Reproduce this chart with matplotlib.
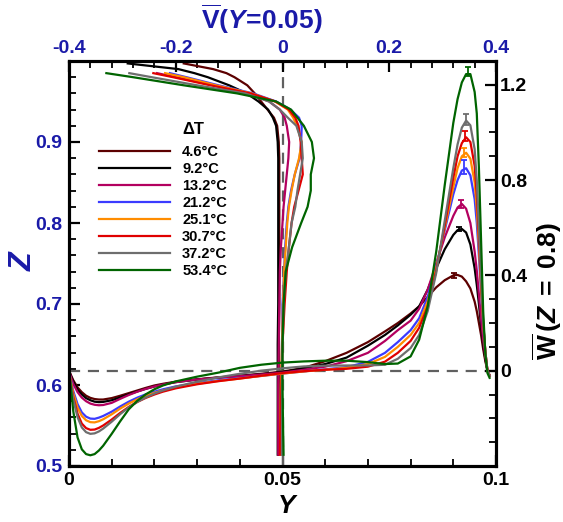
import numpy as np
import matplotlib
matplotlib.use("Agg")
import matplotlib.pyplot as plt
from matplotlib.ticker import MultipleLocator, FixedLocator, FixedFormatter

plt.rcParams['font.family'] = 'Liberation Sans'
plt.rcParams['font.weight'] = 'bold'
plt.rcParams['mathtext.fontset'] = 'custom'
plt.rcParams['mathtext.rm'] = 'Liberation Sans:bold'
plt.rcParams['mathtext.it'] = 'Liberation Sans:italic:bold'
plt.rcParams['mathtext.bf'] = 'Liberation Sans:bold'

BLUE = '#1a1aa8'
nan = np.nan

labels = ['4.6°C', '9.2°C', '13.2°C', '21.2°C', '25.1°C', '30.7°C', '37.2°C', '53.4°C']
colors = ['#5c0000', '#000000', '#b3005f', '#3b3bff', '#ff8c00', '#e00000', '#6e6e6e', '#006400']

# W(Z=0.8) profiles along Y (bottom / right axes)
wy = [0, .0005, .001, .002, .003, .004, .005, .006, .007, .008,
      .010, .012, .014, .016, .018, .020, .022, .025, .030, .035,
      .040, .045, .050, .055, .060, .065, .070, .074, .077, .080,
      .082, .084, .086, .088, .090, .091, .092, .093, .094, .095,
      .0955, .096, .0965, .097, .0975, .098, .0985]

w_46 = [0, -0.02, -0.04, -0.07, -0.09, -0.105, -0.114, -0.119, -0.121, -0.121,
        -0.115, -0.105, -0.094, -0.083, -0.072, -0.062, -0.055, -0.046, -0.036, -0.028,
        -0.021, -0.013, -0.004, 0.012, 0.04, 0.075, 0.12, 0.165, 0.2, 0.24,
        0.27, 0.31, 0.35, 0.38, 0.40, 0.402, 0.395, 0.375, 0.345, 0.29,
        0.25, 0.20, 0.15, 0.09, 0.04, 0.0, -0.02]
w_92 = [0, -0.025, -0.045, -0.08, -0.10, -0.115, -0.124, -0.13, -0.132, -0.131,
        -0.124, -0.112, -0.099, -0.087, -0.076, -0.066, -0.058, -0.048, -0.037, -0.029,
        -0.022, -0.015, -0.006, 0.01, 0.028, 0.055, 0.105, 0.15, 0.19, 0.235,
        0.27, 0.34, 0.43, 0.51, 0.57, 0.59, 0.595, 0.58, 0.53, 0.43,
        0.36, 0.28, 0.19, 0.11, 0.05, 0.0, -0.02]
w_132 = [0, -0.03, -0.055, -0.09, -0.113, -0.128, -0.138, -0.143, -0.145, -0.144,
         -0.135, -0.118, -0.102, -0.088, -0.076, -0.066, -0.058, -0.048, -0.037, -0.029,
         -0.023, -0.016, -0.008, 0.004, 0.017, 0.04, 0.075, 0.125, 0.17, 0.21,
         0.26, 0.34, 0.45, 0.56, 0.65, 0.685, 0.70, 0.68, 0.62, 0.50,
         0.42, 0.32, 0.22, 0.13, 0.06, 0.0, -0.02]
w_212 = [0, -0.045, -0.085, -0.14, -0.175, -0.193, -0.201, -0.202, -0.197, -0.19,
         -0.172, -0.15, -0.13, -0.113, -0.099, -0.088, -0.078, -0.066, -0.052, -0.04,
         -0.031, -0.022, -0.012, -0.003, 0.006, 0.015, 0.037, 0.075, 0.12, 0.17,
         0.22, 0.31, 0.44, 0.59, 0.74, 0.80, 0.84, 0.85, 0.82, 0.72,
         0.62, 0.48, 0.33, 0.19, 0.08, 0.0, -0.02]
w_251 = [0, -0.05, -0.095, -0.155, -0.19, -0.208, -0.216, -0.217, -0.212, -0.204,
         -0.183, -0.159, -0.138, -0.12, -0.105, -0.093, -0.083, -0.07, -0.055, -0.043,
         -0.033, -0.022, -0.012, -0.003, 0.004, 0.012, 0.028, 0.058, 0.10, 0.15,
         0.20, 0.29, 0.43, 0.60, 0.77, 0.85, 0.90, 0.915, 0.89, 0.79,
         0.68, 0.52, 0.35, 0.20, 0.08, 0.0, -0.02]
w_307 = [0, -0.06, -0.11, -0.18, -0.222, -0.241, -0.248, -0.247, -0.24, -0.23,
         -0.205, -0.177, -0.152, -0.131, -0.114, -0.1, -0.088, -0.074, -0.057, -0.044,
         -0.033, -0.021, -0.01, -0.002, 0.004, 0.008, 0.017, 0.038, 0.075, 0.125,
         0.18, 0.27, 0.42, 0.61, 0.81, 0.90, 0.955, 0.98, 0.96, 0.86,
         0.74, 0.56, 0.37, 0.20, 0.08, 0.0, -0.02]
w_372 = [0, -0.065, -0.12, -0.195, -0.238, -0.258, -0.265, -0.263, -0.255, -0.243,
         -0.214, -0.182, -0.154, -0.131, -0.112, -0.096, -0.083, -0.067, -0.046, -0.028,
         -0.013, 0.0, 0.01, 0.018, 0.021, 0.022, 0.022, 0.025, 0.05, 0.095,
         0.15, 0.25, 0.41, 0.63, 0.85, 0.95, 1.02, 1.05, 1.03, 0.93,
         0.80, 0.60, 0.39, 0.21, 0.08, 0.0, -0.02]
w_534 = [0, -0.08, -0.17, -0.28, -0.33, -0.35, -0.355, -0.35, -0.335, -0.315,
         -0.265, -0.212, -0.162, -0.126, -0.099, -0.078, -0.062, -0.045, -0.025, -0.008,
         0.012, 0.025, 0.034, 0.039, 0.042, 0.042, 0.036, 0.028, 0.03, 0.06,
         0.13, 0.27, 0.50, 0.78, 1.04, 1.14, 1.21, 1.245, 1.245, 1.17,
         1.08, 0.85, 0.55, 0.25, 0.07, -0.01, -0.03]
w_all = [w_46, w_92, w_132, w_212, w_251, w_307, w_372, w_534]

# peak values with error bars
peak_y = [0.0902, 0.0913, 0.0918, 0.0924, 0.0926, 0.0928, 0.0930, 0.0935]
peak_w = [0.40, 0.595, 0.70, 0.855, 0.915, 0.985, 1.055, 1.255]
peak_err = [0.012, 0.01, 0.018, 0.03, 0.02, 0.022, 0.022, 0.02]

# V(Y=0.05) profiles along Z (top / left axes)
vz = [0.514, 0.55, 0.60, 0.65, 0.70, 0.74, 0.77, 0.80, 0.82, 0.84, 0.86, 0.88,
      0.90, 0.92, 0.93, 0.94, 0.95, 0.96, 0.97, 0.98, 0.985, 0.99, 0.997]
v_46 = [-0.007, -0.007, -0.007, -0.007, -0.006, -0.006, -0.006, -0.006, -0.006, -0.006, -0.006, -0.006,
        -0.007, -0.01, -0.016, -0.028, -0.04, -0.052, -0.066, -0.09, -0.105, -0.13, -0.185]
v_92 = [-0.009, -0.009, -0.009, -0.009, -0.008, -0.008, -0.008, -0.008, -0.008, -0.008, -0.008, -0.008,
        -0.009, -0.012, -0.018, -0.027, -0.045, -0.067, -0.1, -0.14, -0.165, -0.195, -0.29]
v_132 = [-0.008, -0.008, -0.008, -0.007, -0.006, -0.005, -0.003, 0.0, 0.002, 0.005, 0.008, 0.011,
         0.0125, 0.008, 0.004, -0.005, -0.025, -0.065, -0.13, -0.2, -0.235, nan, nan]
v_212 = [-0.003, -0.003, -0.002, -0.001, 0.0, 0.003, 0.005, 0.008, 0.011, 0.016, 0.023, 0.032,
         0.035, 0.036, 0.031, 0.015, -0.012, -0.055, -0.12, -0.18, -0.211, nan, nan]
v_251 = [-0.004, -0.004, -0.003, -0.001, 0.001, 0.003, 0.006, 0.009, 0.012, 0.017, 0.023, 0.031,
         0.036, 0.027, 0.02, 0.01, -0.014, -0.058, -0.125, -0.185, -0.22, nan, nan]
v_307 = [-0.005, -0.004, -0.002, 0.0, 0.004, 0.008, 0.012, 0.017, 0.022, 0.03, 0.038, 0.036,
         0.034, 0.03, 0.024, 0.012, -0.013, -0.06, -0.135, -0.205, -0.242, nan, nan]
v_372 = [-0.001, -0.001, -0.001, 0.0, 0.002, 0.006, 0.012, 0.017, 0.024, 0.028, 0.033, 0.038,
         0.036, 0.026, 0.01, -0.005, -0.025, -0.07, -0.16, -0.245, -0.287, nan, nan]
v_534 = [0.002, 0.001, 0.0, 0.0, 0.002, 0.006, 0.018, 0.035, 0.047, 0.053, 0.053, 0.059,
         0.055, 0.04, 0.028, 0.016, -0.012, -0.085, -0.185, -0.28, -0.33, nan, nan]
v_all = [v_46, v_92, v_132, v_212, v_251, v_307, v_372, v_534]

W, H = 563, 522
fig = plt.figure(figsize=(W / 100, H / 100), dpi=100)
ax = fig.add_axes([69 / W, 1 - 466 / H, 427 / W, 405 / H])
ax_top = ax.twiny()
ax_right = ax.twinx()

ax.set_xlim(0, 0.1)
ax.set_ylim(0.5, 1.0)
ax_top.set_xlim(-0.4, 0.4)
ax_right.set_ylim(-0.4, 1.3)

# dashed reference lines
ax_right.axhline(0, color='#606060', lw=1.6, ls=(0, (5, 3.5)), zorder=1)
ax_top.axvline(0, color='#606060', lw=1.6, ls=(0, (5, 3.5)), zorder=1)

handles = []
for v, w, c, lab in zip(v_all, w_all, colors, labels):
    ax_top.plot(v, vz, color=c, lw=1.6, solid_joinstyle='round')
    h, = ax_right.plot(wy, w, color=c, lw=1.6, solid_joinstyle='round', label=lab)
    handles.append(h)

for py, pw, pe, c in zip(peak_y, peak_w, peak_err, colors):
    ax_right.errorbar([py], [pw], yerr=[pe], color=c, lw=1.3, capsize=2.5, capthick=1.3, fmt='none')

# ticks
ax.xaxis.set_major_locator(FixedLocator([0, 0.05, 0.1]))
ax.xaxis.set_major_formatter(FixedFormatter(['0', '0.05', '0.1']))
ax.xaxis.set_minor_locator(MultipleLocator(0.01))
ax.yaxis.set_major_locator(FixedLocator([0.5, 0.6, 0.7, 0.8, 0.9]))
ax.yaxis.set_major_formatter(FixedFormatter(['0.5', '0.6', '0.7', '0.8', '0.9']))
ax.yaxis.set_minor_locator(MultipleLocator(0.02))
ax_top.xaxis.set_major_locator(FixedLocator([-0.4, -0.2, 0, 0.2, 0.4]))
ax_top.xaxis.set_major_formatter(FixedFormatter(['-0.4', '-0.2', '0', '0.2', '0.4']))
ax_top.xaxis.set_minor_locator(MultipleLocator(0.04))
ax_right.yaxis.set_major_locator(FixedLocator([0, 0.4, 0.8, 1.2]))
ax_right.yaxis.set_major_formatter(FixedFormatter(['0', '0.4', '0.8', '1.2']))
ax_right.yaxis.set_minor_locator(MultipleLocator(0.1))

for a in (ax, ax_top, ax_right):
    a.tick_params(which='major', direction='in', length=8, width=1.6, labelsize=14, pad=4)
    a.tick_params(which='minor', direction='in', length=5, width=1.3)
    for s in a.spines.values():
        s.set_linewidth(2.2)
ax.tick_params(axis='x', which='both', top=False)
ax.tick_params(axis='y', which='both', right=False, labelcolor=BLUE)
ax.tick_params(axis='y', pad=5)
ax_top.tick_params(axis='x', which='both', labelcolor=BLUE, pad=3)
ax_right.tick_params(axis='y', pad=3)

# axis labels
fig.text(262 / W, 1 - 19 / H, r'$\overline{\mathrm{V}}\mathrm{(}Y\!=\!0.05\mathrm{)}$', color=BLUE,
         fontsize=19, ha='center', va='center')
fig.text(547 / W, 1 - 291 / H, r'$\overline{\mathrm{W}}\,\mathrm{(}Z\;=\;0.8\mathrm{)}$', color='black',
         fontsize=19, ha='center', va='center', rotation=90)
fig.text(24 / W, 1 - 262 / H, 'Z', color=BLUE, fontsize=22, fontweight='bold', fontstyle='italic',
         ha='center', va='center', rotation=90)
fig.text(287 / W, 1 - 506 / H, 'Y', color='black', fontsize=19, fontweight='bold', fontstyle='italic',
         ha='center', va='center')

# legend
fig.text(182 / W, 1 - 129 / H, 'ΔT', fontsize=12, fontweight='bold', ha='left', va='center')
fig.legend(handles=handles, loc='upper left', bbox_to_anchor=(99 / W, 1 - 145 / H),
           frameon=False, prop={'weight': 'bold', 'size': 10.5}, handlelength=4.9,
           handletextpad=0.8, labelspacing=0.21, borderpad=0, borderaxespad=0)

fig.savefig('out.png', dpi=100)
